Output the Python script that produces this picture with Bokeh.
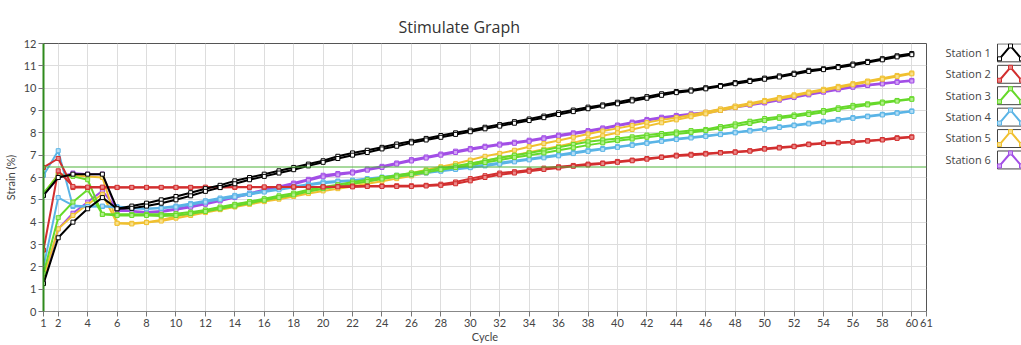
from bokeh.plotting import figure
from bokeh.models import Range1d, FixedTicker, Span
from bokeh.layouts import row
from bokeh.embed import file_html
from bokeh.resources import INLINE
from bokeh.core.properties import value

# ---------------- data ----------------
cycles = list(range(1, 61))
stations = ["Station 1", "Station 2", "Station 3", "Station 4", "Station 5", "Station 6"]

s1a = [5.2, 6.0, 6.15, 6.15, 6.15, 4.6, 4.72, 4.85, 5.0, 5.15, 5.32, 5.5, 5.65, 5.85, 6.0, 6.15, 6.3, 6.45, 6.6, 6.75,
       6.95, 7.1, 7.22, 7.35, 7.5, 7.62, 7.75, 7.88, 8.0, 8.12, 8.25, 8.37, 8.5, 8.62, 8.75, 8.9, 9.02, 9.15, 9.25, 9.37,
       9.5, 9.62, 9.75, 9.85, 9.92, 10.02, 10.12, 10.25, 10.35, 10.45, 10.55, 10.67, 10.8, 10.87, 10.97, 11.08, 11.2, 11.32, 11.45, 11.55]
s1b = [1.25, 3.3, 4.0, 4.6, 5.1, 4.6, 4.62, 4.72, 4.85, 5.0, 5.18, 5.38, 5.55, 5.72, 5.9, 6.05, 6.2, 6.35, 6.52, 6.68,
       6.85, 7.0, 7.12, 7.28, 7.4, 7.55, 7.68, 7.8, 7.93, 8.05, 8.18, 8.3, 8.43, 8.55, 8.68, 8.82, 8.95, 9.08, 9.2, 9.3,
       9.43, 9.55, 9.68, 9.8, 9.87, 9.97, 10.08, 10.2, 10.3, 10.4, 10.5, 10.62, 10.75, 10.83, 10.92, 11.03, 11.15, 11.27, 11.4, 11.5]

s2a = [6.45, 6.85, 5.55, 5.55, 5.55, 5.55, 5.55, 5.55, 5.55, 5.55, 5.55, 5.55, 5.55, 5.56, 5.56, 5.56, 5.57, 5.57, 5.57, 5.58,
       5.6, 5.62, 5.62, 5.62, 5.63, 5.63, 5.65, 5.7, 5.8, 5.95, 6.08, 6.2, 6.26, 6.34, 6.42, 6.48, 6.54, 6.6, 6.65, 6.72,
       6.78, 6.85, 6.92, 7.0, 7.04, 7.08, 7.12, 7.15, 7.2, 7.3, 7.35, 7.4, 7.5, 7.55, 7.57, 7.6, 7.65, 7.7, 7.78, 7.82]
s2b = [2.75, 6.3, 5.6, 5.57, 5.57, 5.56, 5.56, 5.56, 5.56, 5.56, 5.56, 5.57, 5.57, 5.57, 5.57, 5.58, 5.58, 5.58, 5.58, 5.58,
       5.58, 5.58, 5.6, 5.6, 5.6, 5.6, 5.62, 5.65, 5.72, 5.85, 6.0, 6.12, 6.2, 6.28, 6.36, 6.43, 6.5, 6.56, 6.62, 6.68,
       6.75, 6.82, 6.9, 6.96, 7.0, 7.05, 7.1, 7.13, 7.18, 7.27, 7.32, 7.38, 7.47, 7.52, 7.55, 7.58, 7.63, 7.68, 7.75, 7.8]

s3a = [5.3, 6.1, 6.05, 5.9, 4.35, 4.35, 4.35, 4.35, 4.35, 4.38, 4.45, 4.55, 4.68, 4.8, 4.92, 5.05, 5.18, 5.3, 5.45, 5.58,
       5.68, 5.8, 5.9, 6.0, 6.1, 6.2, 6.3, 6.42, 6.52, 6.63, 6.75, 6.88, 7.0, 7.1, 7.22, 7.35, 7.48, 7.6, 7.68, 7.75,
       7.82, 7.9, 7.97, 8.04, 8.1, 8.15, 8.28, 8.4, 8.52, 8.64, 8.72, 8.8, 8.9, 9.0, 9.12, 9.23, 9.3, 9.38, 9.45, 9.53]
s3b = [1.7, 4.2, 4.9, 5.45, 4.35, 4.3, 4.3, 4.3, 4.28, 4.3, 4.38, 4.48, 4.6, 4.72, 4.85, 4.98, 5.1, 5.22, 5.37, 5.5,
       5.6, 5.72, 5.82, 5.93, 6.03, 6.13, 6.23, 6.35, 6.45, 6.55, 6.67, 6.78, 6.9, 7.0, 7.1, 7.22, 7.33, 7.45, 7.55, 7.65,
       7.72, 7.8, 7.88, 7.95, 8.02, 8.1, 8.2, 8.3, 8.42, 8.55, 8.65, 8.73, 8.82, 8.92, 9.05, 9.15, 9.25, 9.33, 9.42, 9.5]

s4a = [6.1, 7.2, 4.7, 4.7, 4.7, 4.7, 4.65, 4.6, 4.65, 4.72, 4.84, 4.96, 5.08, 5.2, 5.3, 5.4, 5.5, 5.6, 5.7, 5.8,
       5.84, 5.88, 5.95, 6.02, 6.1, 6.17, 6.25, 6.32, 6.4, 6.48, 6.57, 6.66, 6.75, 6.84, 6.93, 7.02, 7.12, 7.22, 7.3, 7.38,
       7.47, 7.56, 7.65, 7.74, 7.8, 7.87, 7.95, 8.03, 8.11, 8.19, 8.27, 8.35, 8.43, 8.52, 8.6, 8.68, 8.75, 8.83, 8.9, 8.98]
s4b = [2.0, 5.1, 4.75, 4.7, 4.72, 4.65, 4.62, 4.6, 4.62, 4.68, 4.78, 4.9, 5.02, 5.13, 5.24, 5.35, 5.45, 5.55, 5.65, 5.74,
       5.8, 5.85, 5.92, 5.98, 6.05, 6.12, 6.2, 6.28, 6.36, 6.44, 6.52, 6.6, 6.7, 6.79, 6.88, 6.97, 7.07, 7.17, 7.26, 7.35,
       7.44, 7.53, 7.62, 7.7, 7.77, 7.84, 7.92, 8.0, 8.08, 8.16, 8.24, 8.32, 8.4, 8.49, 8.57, 8.65, 8.72, 8.8, 8.88, 8.96]

s5a = [5.25, 6.15, 6.1, 6.05, 6.0, 3.95, 3.95, 4.0, 4.1, 4.25, 4.38, 4.52, 4.65, 4.78, 4.9, 5.0, 5.12, 5.25, 5.38, 5.5,
       5.6, 5.7, 5.82, 5.95, 6.08, 6.2, 6.34, 6.48, 6.62, 6.78, 6.95, 7.08, 7.22, 7.38, 7.52, 7.66, 7.8, 7.95, 8.08, 8.2,
       8.33, 8.46, 8.58, 8.68, 8.8, 8.93, 9.07, 9.2, 9.33, 9.45, 9.58, 9.7, 9.83, 9.95, 10.08, 10.2, 10.32, 10.45, 10.57, 10.68]
s5b = [1.5, 3.7, 4.3, 4.8, 5.25, 3.95, 3.92, 3.98, 4.05, 4.18, 4.3, 4.43, 4.56, 4.68, 4.8, 4.92, 5.03, 5.15, 5.28, 5.4,
       5.5, 5.6, 5.72, 5.83, 5.95, 6.07, 6.2, 6.32, 6.45, 6.6, 6.75, 6.87, 7.0, 7.13, 7.27, 7.4, 7.55, 7.72, 7.87, 8.0,
       8.15, 8.3, 8.45, 8.58, 8.72, 8.85, 9.0, 9.13, 9.27, 9.4, 9.52, 9.65, 9.78, 9.9, 10.02, 10.15, 10.27, 10.4, 10.52, 10.64]

s6a = [5.2, 6.0, 6.2, 6.15, 6.15, 4.5, 4.5, 4.45, 4.5, 4.6, 4.72, 4.85, 5.0, 5.15, 5.3, 5.45, 5.6, 5.75, 5.92, 6.1,
       6.18, 6.25, 6.38, 6.5, 6.65, 6.8, 6.92, 7.05, 7.18, 7.3, 7.4, 7.5, 7.58, 7.67, 7.78, 7.9, 8.0, 8.1, 8.22, 8.35,
       8.48, 8.6, 8.7, 8.78, 8.85, 8.92, 9.05, 9.18, 9.28, 9.38, 9.5, 9.62, 9.74, 9.86, 9.97, 10.08, 10.15, 10.22, 10.29, 10.35]
s6b = [1.3, 3.7, 4.4, 4.9, 5.4, 4.6, 4.48, 4.42, 4.45, 4.55, 4.67, 4.8, 4.95, 5.1, 5.25, 5.4, 5.55, 5.7, 5.87, 6.03,
       6.12, 6.2, 6.33, 6.45, 6.6, 6.74, 6.87, 7.0, 7.12, 7.24, 7.35, 7.45, 7.53, 7.62, 7.73, 7.85, 7.95, 8.05, 8.17, 8.3,
       8.43, 8.55, 8.65, 8.74, 8.8, 8.88, 9.0, 9.13, 9.24, 9.34, 9.46, 9.58, 9.7, 9.82, 9.93, 10.04, 10.12, 10.19, 10.26, 10.32]

series = [(s1a, s1b), (s2a, s2b), (s3a, s3b), (s4a, s4b), (s5a, s5b), (s6a, s6b)]
x_ticks = [1] + list(range(2, 61, 2)) + [61]
y_ticks = list(range(0, 13))
threshold = 6.47

# ---------------- style ----------------
colors = ["#000000", "#d22f2f", "#66d92a", "#5ab4e6", "#f0c030", "#a24ee6"]
fills = ["#ffffff", "#e98a8a", "#b2ef8c", "#b5def5", "#f8e08c", "#d3a5f5"]
TFONT = "Open Sans"
FONT = "Lato"
TICK_COLOR = "#444444"

MAIN_W, H = 938, 345
B_LEFT, B_TOP, B_RIGHT, B_BOTTOM = 43, 43, 12, 33

p = figure(width=MAIN_W, height=H, x_range=Range1d(1, 61), y_range=Range1d(0, 12),
           output_backend="svg", toolbar_location=None,
           min_border_left=B_LEFT, min_border_right=B_RIGHT,
           min_border_top=B_TOP, min_border_bottom=B_BOTTOM,
           title="Stimulate Graph")
p.title.text_font = TFONT
p.title.text_font_size = "16px"
p.title.text_font_style = "normal"
p.title.text_color = "#333333"
p.title.align = "left"
p.title.offset = 355
p.title.standoff = 11

p.background_fill_color = "white"
p.border_fill_color = "white"
p.outline_line_color = "#555555"
p.outline_line_width = 1

p.xaxis.ticker = FixedTicker(ticks=x_ticks)
p.yaxis.ticker = FixedTicker(ticks=y_ticks)
p.xgrid.ticker = FixedTicker(ticks=x_ticks)
for ax in (p.xaxis[0], p.yaxis[0]):
    ax.major_tick_out = 5
    ax.major_tick_in = 0
    ax.minor_tick_line_color = None
    ax.major_label_text_font = FONT
    ax.major_label_text_font_size = "11px"
    ax.major_label_text_color = TICK_COLOR
    ax.major_tick_line_color = "#777777"
    ax.major_label_standoff = 2
    ax.axis_label_text_font = FONT
    ax.axis_label_text_font_size = "11px"
    ax.axis_label_text_font_style = "normal"
    ax.axis_label_text_color = TICK_COLOR
p.xaxis.axis_label = "Cycle"
p.xaxis.axis_label_standoff = 0
p.yaxis.axis_label = "Strain (%)"
p.yaxis.axis_label_standoff = 4
p.xaxis.axis_line_color = "#888888"
p.yaxis.axis_line_color = "#2f8a1c"
p.yaxis.axis_line_width = 2
p.grid.grid_line_color = "#dddddd"
p.grid.grid_line_width = 1

p.add_layout(Span(location=threshold, dimension="width", line_color="#4fb23a", line_width=1))

for i in reversed(range(len(series))):
    for trace in series[i]:
        p.line(cycles, trace, line_color=colors[i], line_width=2)
        p.scatter(cycles, trace, marker="square", size=4, line_color=colors[i],
                  fill_color=fills[i], line_width=1)

# ---------------- legend panel ----------------
# the row aligns this panel's frame with the chart frame, so map y in page pixels
LW = 1021 - MAIN_W
frame_top, frame_bottom = B_TOP, H - B_BOTTOM
leg = figure(width=LW, height=H, x_range=Range1d(0, LW), y_range=Range1d(frame_bottom, frame_top),
             output_backend="svg", toolbar_location=None, min_border=0,
             x_axis_location=None, y_axis_location=None)
leg.grid.visible = False
leg.outline_line_color = None
leg.background_fill_color = "white"
leg.border_fill_color = "white"

row0, pitch, half = 52.4, 21.5, 9
centers = [row0 + k * pitch for k in range(len(stations))]
leg.text(x=[7] * len(stations), y=[c - 0.7 for c in centers], text=stations, text_font=value(TFONT),
         text_font_size="11px", text_baseline="middle", text_color="#444444")
leg.quad(left=[59] * len(stations), right=[92] * len(stations),
         top=[c - half for c in centers], bottom=[c + half for c in centers],
         fill_color="white", line_color="#444444", line_width=1)
for k, c in enumerate(centers):
    xs = [61, 72, 83]
    ys = [c + 6, c - 7, c + 6]
    leg.line(xs, ys, line_color=colors[k], line_width=2)
    leg.scatter(xs, ys, marker="square", size=4, line_color=colors[k], fill_color=fills[k])

layout = row(p, leg)
open("out.html", "w").write(file_html(layout, INLINE))
